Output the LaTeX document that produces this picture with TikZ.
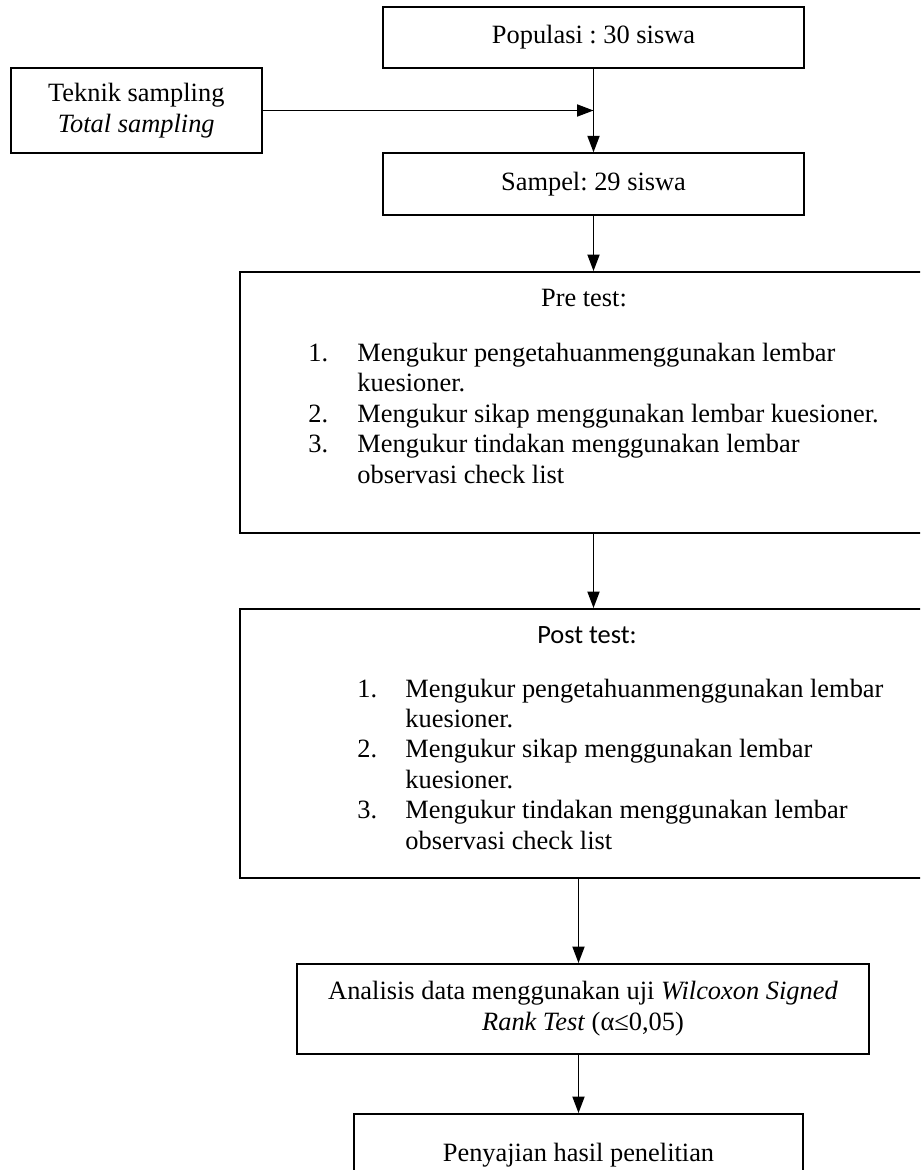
\documentclass[tikz,border=0pt]{standalone}
\usepackage{fontspec}
\setmainfont{Liberation Serif}
\newfontfamily\postfont{Carlito}
\usetikzlibrary{arrows.meta,fit}
\frenchspacing
\begin{document}
\begin{tikzpicture}[x=0.454545pt,y=-0.454545pt,
  box/.style={draw,line width=0.9pt,inner sep=0pt},
  txt/.style={inner sep=0pt,font=\fontsize{12}{14}\selectfont},
  arr/.style={line width=0.7pt,-{Triangle[length=7.5pt,width=5.5pt]}}]
\useasboundingbox (0,0) rectangle (920,1170);
\clip (0,0) rectangle (920,1170);
% boxes
\node[box,fit={(383,7)(804,68)}] (pop) {};
\node[txt] (poptext) at (pop.center) {Populasi : 30 siswa};
\node[box,fit={(10.6,67.7)(262,153.3)}] (tek) {};
\node[txt,align=center] (tektext) at (tek.center) {Teknik sampling\\\textit{Total sampling}};
\node[box,fit={(383,153.3)(804,215)}] (samp) {};
\node[txt] (samptext) at (samp.center) {Sampel: 29 siswa};
\node[box,fit={(240,272)(930,533)}] (pre) {};
\node[box,fit={(240,609)(930,878)}] (post) {};
\node[box,fit={(297,964)(869,1054)}] (ana) {};
\node[txt,align=center] (anatext) at (ana.center) {Analisis data menggunakan uji \textit{Wilcoxon Signed}\\\textit{Rank Test} (α≤0,05)};
\node[box,fit={(354,1114)(803,1195)}] (peny) {};
\node[txt,anchor=base] (penytext) at (578.5,1161) {Penyajian hasil penelitian};
% pre test text
\node[txt,anchor=base] (pret) at (584,306) {Pre test:};
\node[txt,anchor=base west] (pn1) at (308,361) {1.};
\node[txt,anchor=base west] (pt1a) at (357,361) {Mengukur pengetahuanmenggunakan lembar};
\node[txt,anchor=base west] (pt1b) at (357,391.5) {kuesioner.};
\node[txt,anchor=base west] (pn2) at (308,422) {2.};
\node[txt,anchor=base west] (pt2) at (357,422) {Mengukur sikap menggunakan lembar kuesioner.};
\node[txt,anchor=base west] (pn3) at (308,452.5) {3.};
\node[txt,anchor=base west] (pt3a) at (357,452.5) {Mengukur tindakan menggunakan lembar};
\node[txt,anchor=base west] (pt3b) at (357,483) {observasi check list};
% post test text
\node[txt,anchor=base,font=\postfont\fontsize{12}{14}\selectfont] (postt) at (587,643) {Post test:};
\node[txt,anchor=base west] (qn1) at (357,697) {1.};
\node[txt,anchor=base west] (qt1a) at (405,697) {Mengukur pengetahuanmenggunakan lembar};
\node[txt,anchor=base west] (qt1b) at (405,727.4) {kuesioner.};
\node[txt,anchor=base west] (qn2) at (357,757.8) {2.};
\node[txt,anchor=base west] (qt2a) at (405,757.8) {Mengukur sikap menggunakan lembar};
\node[txt,anchor=base west] (qt2b) at (405,788.2) {kuesioner.};
\node[txt,anchor=base west] (qn3) at (357,818.6) {3.};
\node[txt,anchor=base west] (qt3a) at (405,818.6) {Mengukur tindakan menggunakan lembar};
\node[txt,anchor=base west] (qt3b) at (405,849) {observasi check list};
% connectors
\draw[arr] (tek.east) -- (tek.east -| pop.south);
\draw[arr] (pop.south) -- (samp.north);
\draw[arr] (samp.south) -- (samp.south |- pre.north);
\draw[arr] (pre.south -| samp.south) -- (samp.south |- post.north);
\draw[arr] (post.south -| peny.north) -- (ana.north -| peny.north);
\draw[arr] (ana.south -| peny.north) -- (peny.north);
\end{tikzpicture}
\end{document}
